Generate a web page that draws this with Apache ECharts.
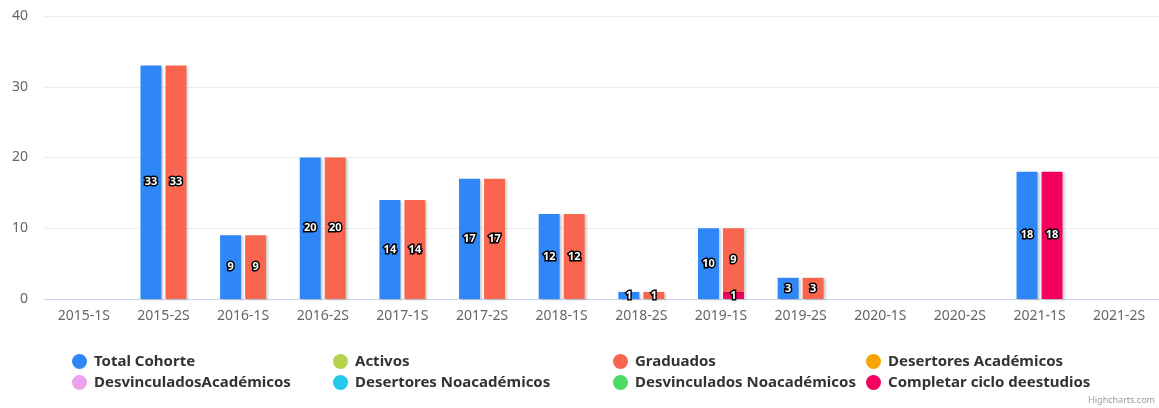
<!DOCTYPE html>
<html>
<head>
<meta charset="utf-8">
<script src="https://cdn.jsdelivr.net/npm/echarts@6/dist/echarts.min.js"></script>
<style>
  html, body { margin: 0; padding: 0; background: #fff; }
  #chart { width: 1159px; height: 408px; }
</style>
</head>
<body>
<div id="chart"></div>
<script>
// categorias (semestres)
var periodos = ['2015-1S','2015-2S','2016-1S','2016-2S','2017-1S','2017-2S','2018-1S','2018-2S','2019-1S','2019-2S','2020-1S','2020-2S','2021-1S','2021-2S'];

// valores por serie
var totalCohorte       = [0, 33, 9, 20, 14, 17, 12, 1, 10, 3, 0, 0, 18, 0];
var activos            = [0, 0, 0, 0, 0, 0, 0, 0, 0, 0, 0, 0, 0, 0];
var graduados          = [0, 33, 9, 20, 14, 17, 12, 1, 9, 3, 0, 0, 0, 0];
var desertoresAcad     = [0, 0, 0, 0, 0, 0, 0, 0, 0, 0, 0, 0, 0, 0];
var desvinculadosAcad  = [0, 0, 0, 0, 0, 0, 0, 0, 0, 0, 0, 0, 0, 0];
var desertoresNoAcad   = [0, 0, 0, 0, 0, 0, 0, 0, 0, 0, 0, 0, 0, 0];
var desvinculadosNoAcad= [0, 0, 0, 0, 0, 0, 0, 0, 0, 0, 0, 0, 0, 0];
var completarCiclo     = [0, 0, 0, 0, 0, 0, 0, 0, 1, 0, 0, 0, 18, 0];

var yTicks = [0, 10, 20, 30, 40];

var FONT = '"Noto Sans", "DejaVu Sans", sans-serif';

function barra(nombre, datos, color, pila) {
  return {
    name: nombre,
    type: 'bar',
    stack: pila,
    data: datos,
    barWidth: 21,
    barGap: '19%',
    itemStyle: {
      color: color,
      shadowColor: 'rgba(0,0,0,0.18)',
      shadowBlur: 2,
      shadowOffsetX: 2,
      shadowOffsetY: 1
    },
    label: {
      show: true,
      position: 'inside',
      color: '#fff',
      fontFamily: FONT,
      fontWeight: 'bold',
      fontSize: 11,
      textBorderColor: '#000',
      textBorderWidth: 3,
      formatter: function (p) { return p.value ? p.value : ''; }
    }
  };
}

var legendBase = {
  orient: 'vertical',
  top: 349,
  icon: 'circle',
  itemWidth: 15,
  itemHeight: 15,
  itemGap: 6,
  textStyle: { fontFamily: FONT, fontSize: 15, fontWeight: 'bold', color: '#333', padding: [0, 0, 0, 2] }
};

var option = {
  animation: false,
  textStyle: { fontFamily: FONT },
  grid: { left: 44, right: -3, top: 16, bottom: 109 },
  legend: [
    Object.assign({ left: 67, data: ['Total Cohorte', 'DesvinculadosAcadémicos'] }, legendBase),
    Object.assign({ left: 328, data: ['Activos', 'Desertores Noacadémicos'] }, legendBase),
    Object.assign({ left: 608, data: ['Graduados', 'Desvinculados Noacadémicos'] }, legendBase),
    Object.assign({ left: 861, data: ['Desertores Académicos', 'Completar ciclo deestudios'] }, legendBase)
  ],
  xAxis: {
    type: 'category',
    data: periodos,
    axisLine: { lineStyle: { color: '#ccd6eb' } },
    axisTick: { length: 10, lineStyle: { color: '#ccd6eb' } },
    axisLabel: { color: '#666', fontSize: 14, margin: 10, fontFamily: FONT }
  },
  yAxis: {
    type: 'value',
    min: yTicks[0],
    max: yTicks[yTicks.length - 1],
    interval: 10,
    axisLine: { show: false },
    axisTick: { show: false },
    splitLine: { lineStyle: { color: '#ececec' } },
    axisLabel: { color: '#666', fontSize: 14, margin: 16, fontFamily: FONT }
  },
  // la segunda pila se apila de abajo hacia arriba: completar ciclo queda abajo
  series: [
    barra('Total Cohorte', totalCohorte, '#2f86f6', 'total'),
    barra('Completar ciclo deestudios', completarCiclo, '#f5005e', 'otros'),
    barra('Desvinculados Noacadémicos', desvinculadosNoAcad, '#4cd964', 'otros'),
    barra('Desertores Noacadémicos', desertoresNoAcad, '#22c9e8', 'otros'),
    barra('DesvinculadosAcadémicos', desvinculadosAcad, '#eaa3ec', 'otros'),
    barra('Desertores Académicos', desertoresAcad, '#f7a400', 'otros'),
    barra('Graduados', graduados, '#fa6550', 'otros'),
    barra('Activos', activos, '#b5d24a', 'otros')
  ],
  graphic: [{
    type: 'text',
    right: 4,
    bottom: 3,
    style: { text: 'Highcharts.com', fill: '#999', fontSize: 9, fontFamily: FONT }
  }]
};

var chart = echarts.init(document.getElementById('chart'));
chart.setOption(option);
</script>
</body>
</html>
